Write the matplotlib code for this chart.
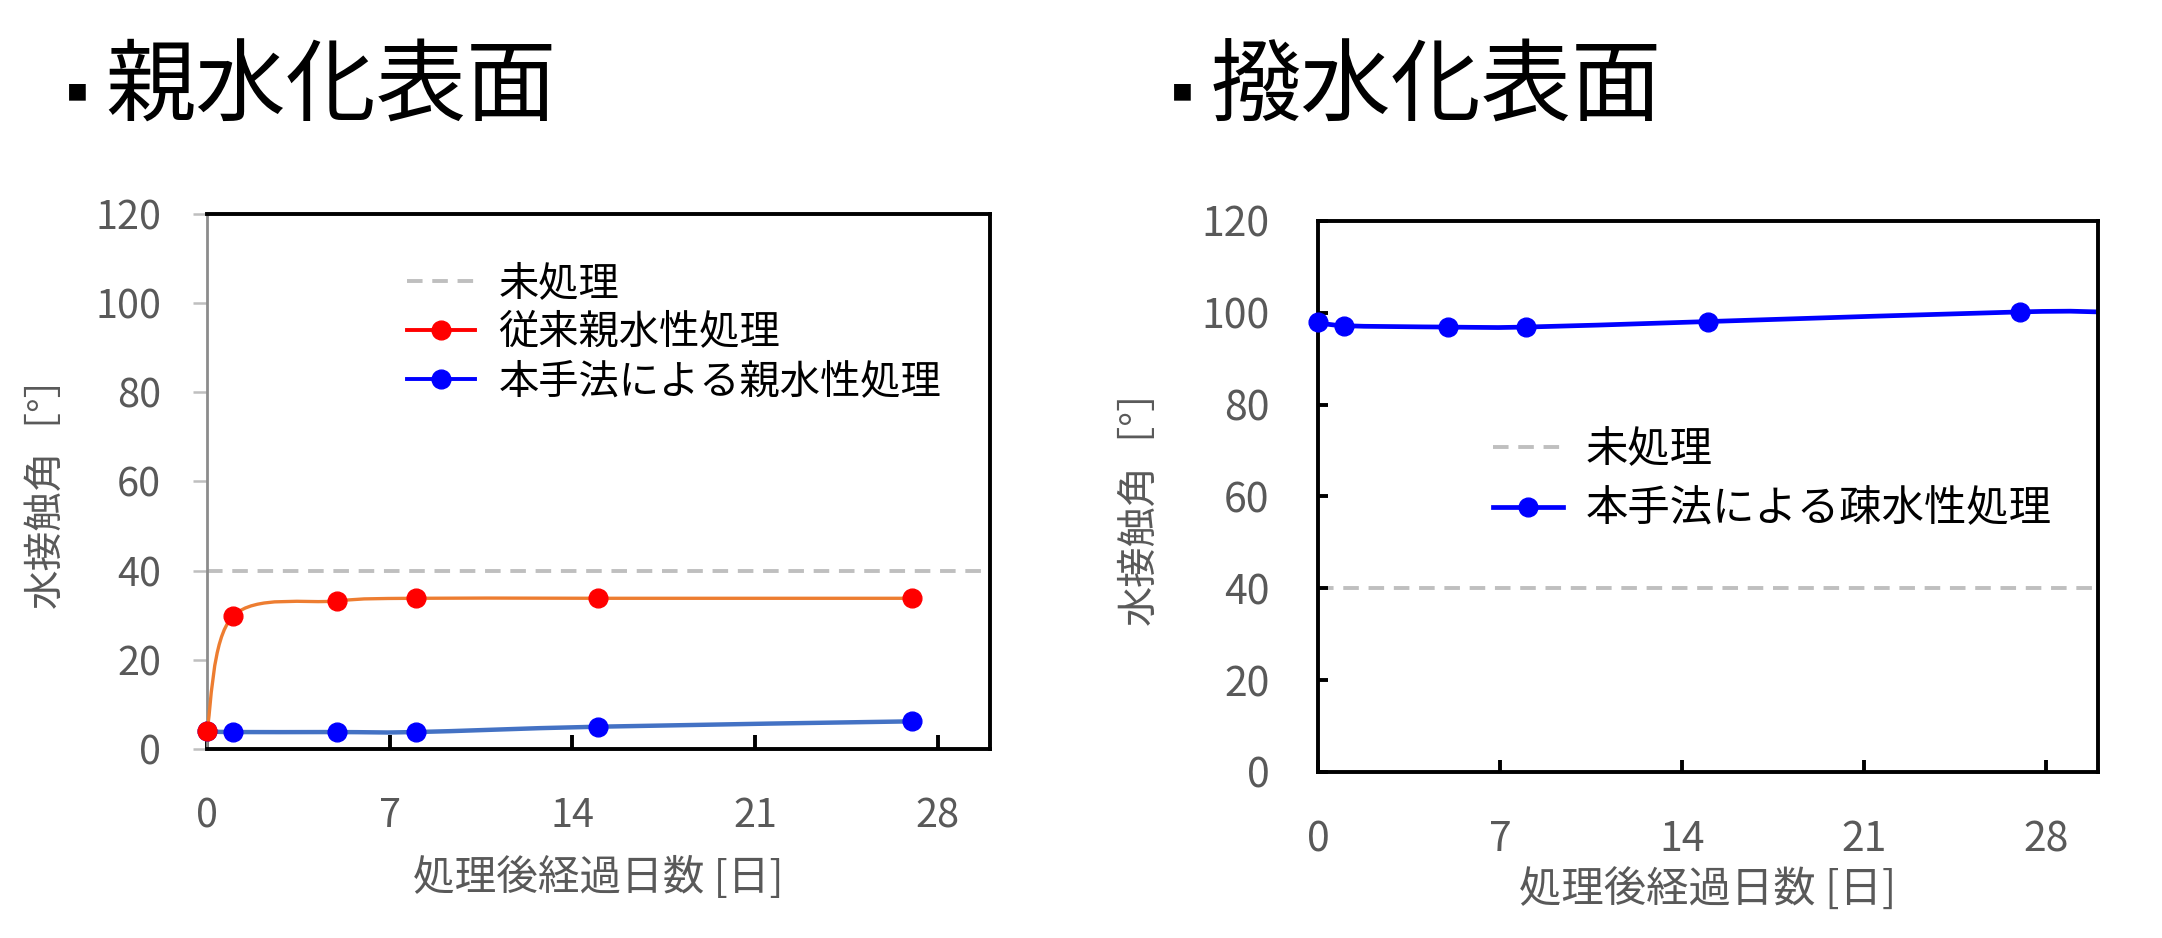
import matplotlib
matplotlib.use("Agg")
import matplotlib.pyplot as plt
from matplotlib.path import Path
from matplotlib.patches import PathPatch
from matplotlib.lines import Line2D

plt.rcParams["font.family"] = ["Noto Sans CJK JP", "DejaVu Sans"]
plt.rcParams["axes.unicode_minus"] = False

# data
days = [0, 1, 5, 8, 15, 27]
conv_hydrophilic = [4.0, 29.8, 33.2, 33.8, 33.8, 33.8]
new_hydrophilic = [4.0, 3.8, 3.8, 3.8, 5.0, 6.2]
days_hydrophobic = [0, 1, 5, 8, 15, 27, 30]
new_hydrophobic = [98.1, 97.2, 96.9, 96.9, 98.1, 100.2, 100.2]
untreated_left = 40
untreated_right = 40

x_ticks = [0, 7, 14, 21, 28]
y_ticks = [0, 20, 40, 60, 80, 100, 120]
xlabel = "処理後経過日数 [日]"
ylabel = "水接触角［°］"

TICK_GREY = "#595959"
MS = 13.5


def smooth_path(xs, ys):
    # Excel style smoothed line: cubic bezier through the points
    pts = list(zip(xs, ys))
    n = len(pts)
    verts = [pts[0]]
    codes = [Path.MOVETO]
    for i in range(n - 1):
        p0 = pts[i - 1] if i > 0 else pts[i]
        p1 = pts[i]
        p2 = pts[i + 1]
        p3 = pts[i + 2] if i + 2 < n else pts[i + 1]
        c1 = (p1[0] + (p2[0] - p0[0]) / 6, p1[1] + (p2[1] - p0[1]) / 6)
        c2 = (p2[0] - (p3[0] - p1[0]) / 6, p2[1] - (p3[1] - p1[1]) / 6)
        verts += [c1, c2, p2]
        codes += [Path.CURVE4] * 3
    return Path(verts, codes)


def add_curve(ax, xs, ys, color, lw, z):
    patch = PathPatch(smooth_path(xs, ys), facecolor="none", edgecolor=color,
                      lw=lw, zorder=z, capstyle="round", joinstyle="round")
    ax.add_patch(patch)


fig = plt.figure(figsize=(21.62, 9.38), dpi=100)

# ---- left: 親水化表面
ax1 = fig.add_axes([0.0957, 0.2015, 0.3622, 0.5704])
ax1.axhline(untreated_left, color="#BFBFBF", lw=2.8, dashes=(4, 2.5), zorder=1)
add_curve(ax1, days, new_hydrophilic, "#4472C4", 3.2, 2)
ax1.plot(days, new_hydrophilic, "o", color="#0000FF", ms=MS, zorder=3,
         clip_on=False)
add_curve(ax1, days, conv_hydrophilic, "#ED7D31", 2.4, 4)
ax1.plot(days, conv_hydrophilic, "o", color="#FF0000", ms=MS, zorder=5,
         clip_on=False)

ax1.set_xlim(0, 30)
ax1.set_ylim(0, 120)
ax1.set_xticks(x_ticks)
ax1.set_yticks(y_ticks)
for s in ["top", "right", "bottom"]:
    ax1.spines[s].set_linewidth(2.8)
    ax1.spines[s].set_color("black")
ax1.spines["left"].set_linewidth(2.0)
ax1.spines["left"].set_color("#8C8C8C")
ax1.tick_params(axis="y", direction="out", length=10, width=1.8,
                color="#BFBFBF", labelsize=28.5, labelcolor=TICK_GREY, pad=23)
ax1.tick_params(axis="x", direction="in", length=10, width=2.8,
                color="black", labelsize=28.5, labelcolor=TICK_GREY, pad=34)
ax1.set_xlabel(xlabel, fontsize=30, color=TICK_GREY)
ax1.set_ylabel(ylabel, fontsize=28.5, color=TICK_GREY)
ax1.xaxis.set_label_coords(0.5, -0.2)
ax1.yaxis.set_label_coords(-0.18, 0.5)

h1 = [
    Line2D([], [], color="#BFBFBF", lw=2.8, dashes=(4, 2.5)),
    Line2D([], [], color="#FF0000", lw=2.8, marker="o", ms=MS),
    Line2D([], [], color="#0000FF", lw=2.8, marker="o", ms=MS),
]
ax1.legend(h1, ["未処理", "従来親水性処理", "本手法による親水性処理"],
           loc="upper left", bbox_to_anchor=(0.255, 0.908), frameon=False,
           fontsize=29, handlelength=1.7, handletextpad=0.58,
           labelspacing=0.2, borderpad=0, borderaxespad=0)

# ---- right: 撥水化表面
ax2 = fig.add_axes([0.6096, 0.177, 0.3608, 0.5874])
ax2.axhline(untreated_right, color="#BFBFBF", lw=2.8, dashes=(4, 2.5), zorder=1)
add_curve(ax2, days_hydrophobic, new_hydrophobic, "#0000FF", 3.4, 2)
ax2.plot(days_hydrophobic[:-1], new_hydrophobic[:-1], "o", color="#0000FF",
         ms=MS, zorder=3, clip_on=False)

ax2.set_xlim(0, 30)
ax2.set_ylim(0, 120)
ax2.set_xticks(x_ticks)
ax2.set_yticks(y_ticks)
for s in ax2.spines.values():
    s.set_linewidth(2.8)
    s.set_color("black")
ax2.tick_params(axis="y", direction="in", length=7, width=2.8,
                color="black", labelsize=29.5, labelcolor=TICK_GREY, pad=35)
ax2.tick_params(axis="x", direction="in", length=9, width=2.8,
                color="black", labelsize=29.5, labelcolor=TICK_GREY, pad=34)
ax2.set_xlabel(xlabel, fontsize=30.5, color=TICK_GREY)
ax2.set_ylabel(ylabel, fontsize=29, color=TICK_GREY)
ax2.xaxis.set_label_coords(0.5, -0.176)
ax2.yaxis.set_label_coords(-0.203, 0.5)

h2 = [
    Line2D([], [], color="#BFBFBF", lw=2.8, dashes=(4, 2.5)),
    Line2D([], [], color="#0000FF", lw=3.4, marker="o", ms=MS),
]
ax2.legend(h2, ["未処理", "本手法による疎水性処理"],
           loc="upper left", bbox_to_anchor=(0.224, 0.624), frameon=False,
           fontsize=30.5, handlelength=1.65, handletextpad=0.55,
           labelspacing=0.36, borderpad=0, borderaxespad=0)

# titles
fig.text(0.036, 0.9, "■", fontsize=15, ha="center", va="center")
fig.text(0.0486, 0.9046, "親水化表面", fontsize=65, ha="left", va="center")
fig.text(0.5467, 0.9, "■", fontsize=15, ha="center", va="center")
fig.text(0.560, 0.9046, "撥水化表面", fontsize=65, ha="left", va="center")

fig.savefig("out.png", dpi=100, facecolor="white")
